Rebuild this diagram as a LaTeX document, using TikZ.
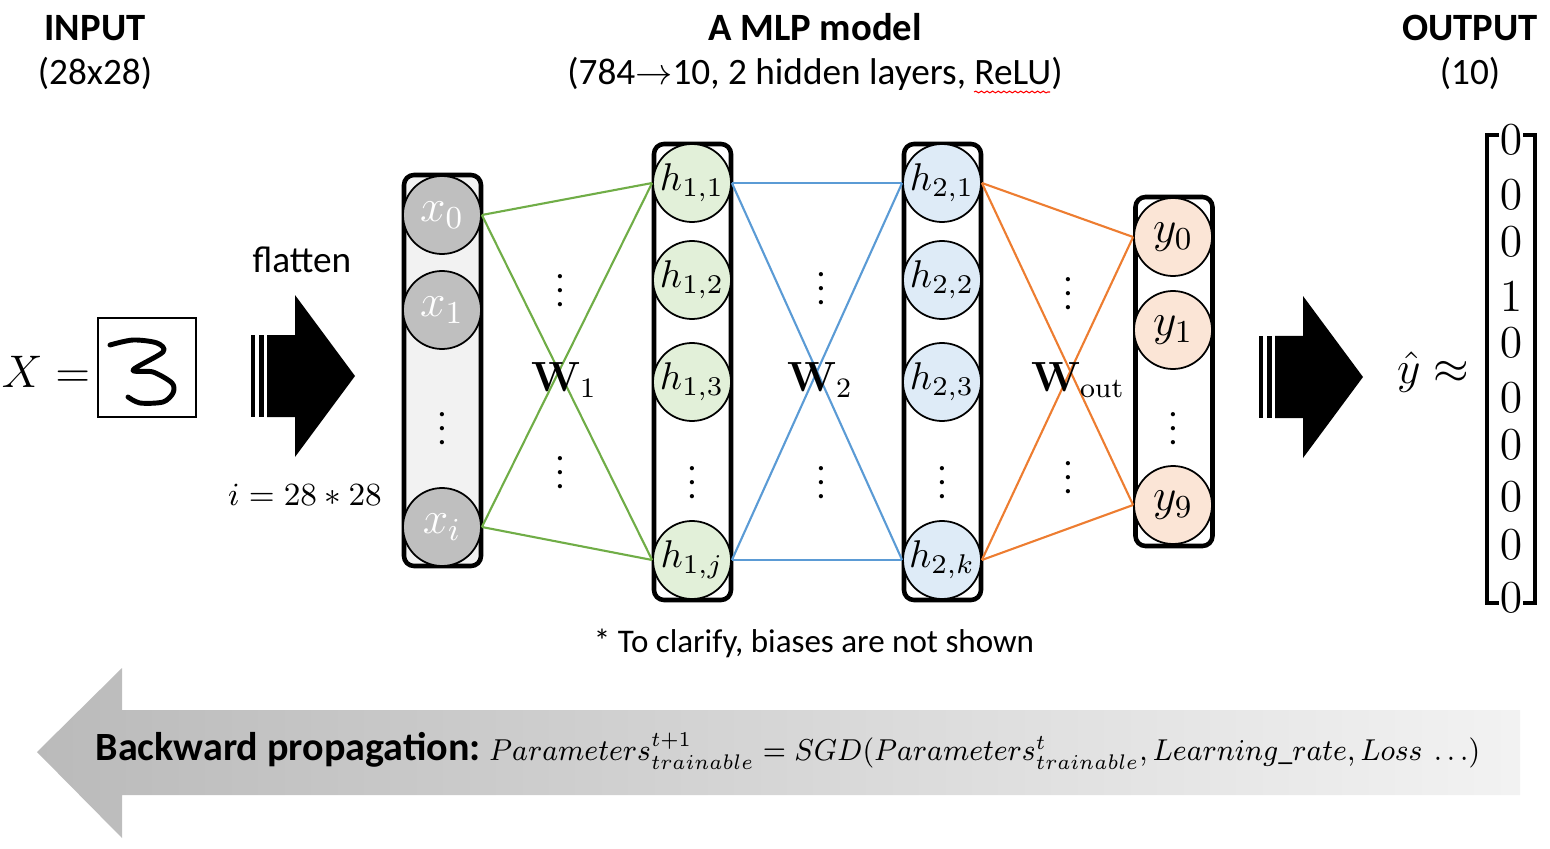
\documentclass[tikz,border=0pt]{standalone}
\usepackage{fix-cm}
\usepackage{amsmath}
\usepackage{amssymb}
\usepackage{graphicx}
\usepackage[no-math]{fontspec}
\setmainfont{Carlito}
\usepackage{tikz}
\usetikzlibrary{positioning,decorations.pathmorphing}
\definecolor{wgreen}{HTML}{70AD47}
\definecolor{wblue}{HTML}{5B9BD5}
\definecolor{worange}{HTML}{ED7D31}
\definecolor{ingray}{HTML}{BFBFBF}
\definecolor{inback}{HTML}{F2F2F2}
\definecolor{hidone}{HTML}{E2F0D9}
\definecolor{hidtwo}{HTML}{DEEBF7}
\definecolor{outfill}{HTML}{FBE5D6}
\newcommand{\blockarrow}[1]{%
  \begin{scope}[shift={#1}]
    \fill (0,-0.41) rectangle (0.04,0.41);
    \fill (0.075,-0.41) rectangle (0.125,0.41);
    \fill (0.16,-0.41) -- (0.44,-0.41) -- (0.44,-0.81) -- (1.04,0)
      -- (0.44,0.81) -- (0.44,0.41) -- (0.16,0.41) -- cycle;
  \end{scope}}
\tikzset{
  neuron/.style={circle, draw=black, line width=0.5pt, minimum size=0.78cm, inner sep=0pt},
  inneuron/.style={neuron, fill=ingray, text=white, font=\fontsize{13}{13}\selectfont},
  hidneuron/.style={neuron, font=\fontsize{11}{11}\selectfont},
  outneuron/.style={neuron, fill=outfill, font=\fontsize{13}{13}\selectfont},
  layerbox/.style={draw=black, line width=1.3pt, rounded corners=0.1cm, minimum width=0.77cm, inner sep=0pt},
  title/.style={font=\fontsize{11}{13}\selectfont\bfseries},
  subtitle/.style={font=\fontsize{10.6}{13}\selectfont},
  wone/.style={wgreen, line width=0.6pt},
  wtwo/.style={wblue, line width=0.6pt},
  wout/.style={worange, line width=0.6pt},
  wlabel/.style={font=\fontsize{12}{12}\selectfont},
}

\begin{document}
\begin{tikzpicture}
	\useasboundingbox (0,0) rectangle (15.5,8.48);
	% headings
	\node[title, anchor=base] (intitle) at (0.95, 8.07) {INPUT};
	\node[subtitle, anchor=base] (insub) at (0.95, 7.63) {(28x28)};
	\node[title, anchor=base] (mlptitle) at (8.15, 8.07) {A MLP model};
	\node[subtitle, anchor=base] (mlpsub) at (8.15, 7.63) {(784$\rightarrow$10, 2 hidden layers, ReLU)};
	\node[title, anchor=base] (outtitle) at (14.70, 8.07) {OUTPUT};
	\node[subtitle, anchor=base] (outsub) at (14.70, 7.63) {(10)};
	\draw[red, line width=0.3pt, decorate, decoration={snake, amplitude=0.25pt, segment length=1.6pt}] (9.74, 7.56) -- (10.50, 7.56);

	% input image
	\node[font=\fontsize{13}{13}\selectfont, anchor=base] (xeq) at (0.46, 4.61) {$X =$};
	\node[draw, line width=0.6pt, minimum width=0.98cm, minimum height=0.99cm] (img) at (1.47, 4.805) {};
	\draw[line width=1.4pt, line cap=round, line join=round] plot[smooth] coordinates
		{(1.10,5.03) (1.33,5.08) (1.57,5.05) (1.63,4.96) (1.33,4.78) (1.53,4.76) (1.72,4.65) (1.73,4.55) (1.63,4.46) (1.40,4.45) (1.28,4.51)};

	% flatten
	\blockarrow{(2.51,4.72)}
	\node[subtitle, anchor=base] (flat) at (3.02, 5.76) {flatten};
	\node[font=\fontsize{9.2}{10}\selectfont, anchor=base] (isize) at (3.05, 3.43) {$i = 28 * 28$};

	% layer boxes
	\node[layerbox, fill=inback, minimum height=3.91cm] (inbox) at (4.425, 4.775) {};
	\node[layerbox, fill=white, minimum height=4.56cm] (hbox1) at (6.925, 4.76) {};
	\node[layerbox, fill=white, minimum height=4.56cm] (hbox2) at (9.425, 4.76) {};
	\node[layerbox, fill=white, minimum height=3.49cm] (outbox) at (11.74, 4.765) {};

	% neurons
	\node[inneuron] (x0) at (4.42, 6.33) {$x_0$};
	\node[inneuron] (x1) at (4.42, 5.38) {$x_1$};
	\node (xdots) at (4.42, 4.30) {$\vdots$};
	\node[inneuron] (xi) at (4.42, 3.21) {$x_i$};

	\node[hidneuron, fill=hidone] (h11) at (6.92, 6.65) {$h_{1,1}$};
	\node[hidneuron, fill=hidone] (h12) at (6.92, 5.68) {$h_{1,2}$};
	\node[hidneuron, fill=hidone] (h13) at (6.92, 4.66) {$h_{1,3}$};
	\node (h1dots) at (6.92, 3.76) {$\vdots$};
	\node[hidneuron, fill=hidone] (h1j) at (6.92, 2.88) {$h_{1,j}$};

	\node[hidneuron, fill=hidtwo] (h21) at (9.42, 6.65) {$h_{2,1}$};
	\node[hidneuron, fill=hidtwo] (h22) at (9.42, 5.68) {$h_{2,2}$};
	\node[hidneuron, fill=hidtwo] (h23) at (9.42, 4.66) {$h_{2,3}$};
	\node (h2dots) at (9.42, 3.76) {$\vdots$};
	\node[hidneuron, fill=hidtwo] (h2k) at (9.42, 2.88) {$h_{2,k}$};

	\node[outneuron] (y0) at (11.73, 6.11) {$y_0$};
	\node[outneuron] (y1) at (11.73, 5.18) {$y_1$};
	\node (ydots) at (11.73, 4.30) {$\vdots$};
	\node[outneuron] (y9) at (11.73, 3.43) {$y_9$};

	% weights
	\foreach \a in {x0,xi} \foreach \b in {h11,h1j} \draw[wone] (\a.east) -- (\b.west);
	\foreach \a in {h11,h1j} \foreach \b in {h21,h2k} \draw[wtwo] (\a.east) -- (\b.west);
	\foreach \a in {h21,h2k} \foreach \b in {y0,y9} \draw[wout] (\a.east) -- (\b.west);
	\node (dotsa) at (5.60, 5.68) {$\vdots$};
	\node (dotsb) at (5.60, 3.86) {$\vdots$};
	\node (dotsc) at (8.21, 5.70) {$\vdots$};
	\node (dotsd) at (8.21, 3.76) {$\vdots$};
	\node (dotse) at (10.68, 5.65) {$\vdots$};
	\node (dotsf) at (10.68, 3.81) {$\vdots$};
	\node[wlabel] (wlab1) at (5.64, 4.68) {$\mathbf{W}_1$};
	\node[wlabel] (wlab2) at (8.20, 4.68) {$\mathbf{W}_2$};
	\node[wlabel] (wlab3) at (10.78, 4.68) {$\mathbf{W}_{\mathrm{out}}$};

	% output
	\blockarrow{(12.59,4.71)}
	\node[font=\fontsize{13}{13}\selectfont] (yhat) at (14.33, 4.76) {$\hat{y} \approx$};
	\draw[line width=0.9pt] (14.99,7.13) -- (14.87,7.13) -- (14.87,2.45) -- (14.99,2.45);
	\draw[line width=0.9pt] (15.23,7.13) -- (15.35,7.13) -- (15.35,2.45) -- (15.23,2.45);
	\foreach \v/\py [count=\i] in {0/140,0/195,0/242,1/297,0/343,0/398,0/445,0/497,0/545,0/598}
		\node[font=\fontsize{13}{13}\selectfont] (d\i) at (15.11, 8.48-\py/100) {$\v$};

	\node[font=\fontsize{9.4}{11}\selectfont, anchor=base] (note) at (8.14, 1.96) {* To clarify, biases are not shown};

	% backward propagation
	\shade[left color=black!27, right color=black!5] (0.37,0.96) -- (1.22,1.80) -- (1.22,1.38)
		-- (15.20,1.38) -- (15.20,0.53) -- (1.22,0.53) -- (1.22,0.10) -- cycle;
	\node[anchor=base west, inner sep=0pt, font=\fontsize{11.4}{13}\selectfont\bfseries] (backlab) at (0.95, 0.88) {Backward propagation:};
	\node[anchor=base west, inner sep=0pt, font=\fontsize{8.6}{10}\selectfont] (backeq) at ([xshift=0.07cm]backlab.base east)
		{\resizebox{9.91cm}{\height}{$Parameters^{t+1}_{trainable} = SGD(Parameters^{t}_{trainable}, Learning\_rate, Loss\ \ldots)$}};
\end{tikzpicture}
\end{document}
